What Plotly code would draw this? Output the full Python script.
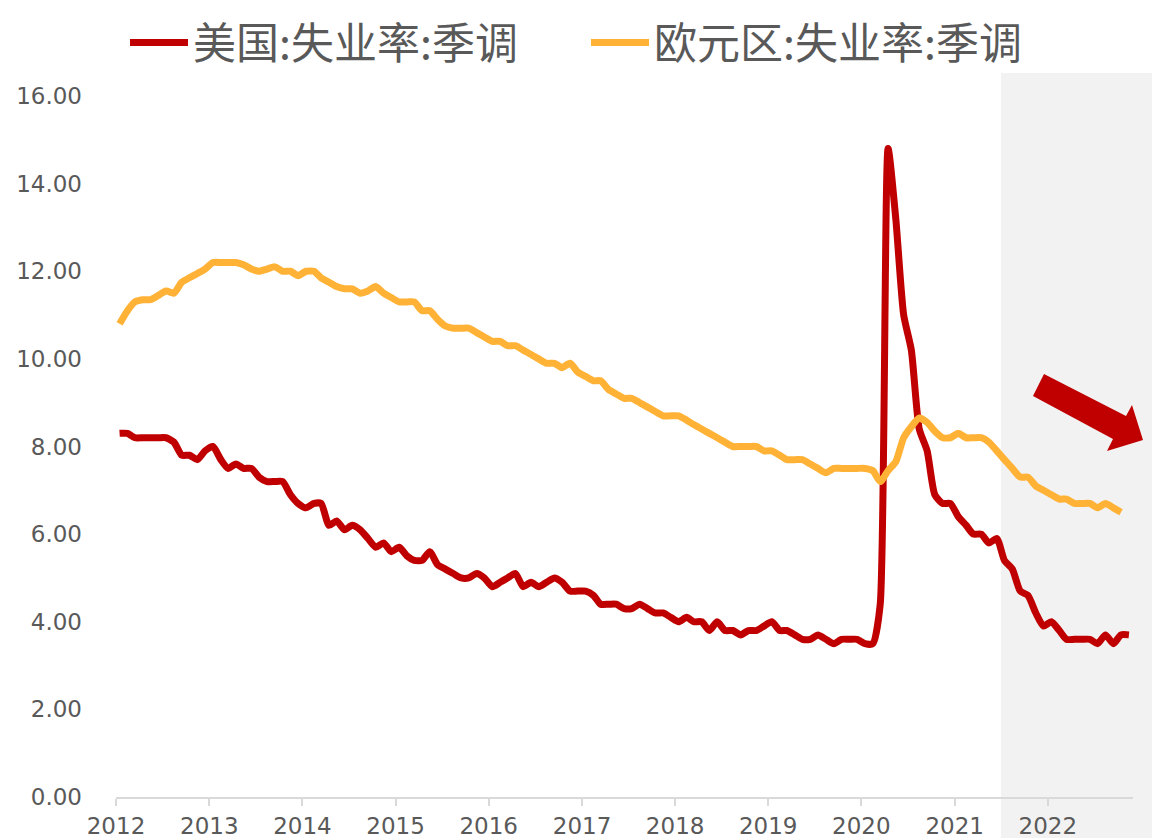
import pandas as pd
import plotly.graph_objects as go

# ---- data (monthly, seasonally adjusted unemployment rate, %) ----
us_start = "2012-01"
us_rate = [
    8.3, 8.3, 8.2, 8.2, 8.2, 8.2, 8.2, 8.1, 7.8, 7.8, 7.7, 7.9,
    8.0, 7.7, 7.5, 7.6, 7.5, 7.5, 7.3, 7.2, 7.2, 7.2, 6.9, 6.7,
    6.6, 6.7, 6.7, 6.2, 6.3, 6.1, 6.2, 6.1, 5.9, 5.7, 5.8, 5.6,
    5.7, 5.5, 5.4, 5.4, 5.6, 5.3, 5.2, 5.1, 5.0, 5.0, 5.1, 5.0,
    4.8, 4.9, 5.0, 5.1, 4.8, 4.9, 4.8, 4.9, 5.0, 4.9, 4.7, 4.7,
    4.7, 4.6, 4.4, 4.4, 4.4, 4.3, 4.3, 4.4, 4.3, 4.2, 4.2, 4.1,
    4.0, 4.1, 4.0, 4.0, 3.8, 4.0, 3.8, 3.8, 3.7, 3.8, 3.8, 3.9,
    4.0, 3.8, 3.8, 3.7, 3.6, 3.6, 3.7, 3.6, 3.5, 3.6, 3.6, 3.6,
    3.5, 3.5, 4.4, 14.8, 13.2, 11.0, 10.2, 8.4, 7.9, 6.9, 6.7, 6.7,
    6.4, 6.2, 6.0, 6.0, 5.8, 5.9, 5.4, 5.2, 4.7, 4.6, 4.2, 3.9,
    4.0, 3.8, 3.6, 3.6, 3.6, 3.6, 3.5, 3.7, 3.5, 3.7, 3.7,
]
ez_start = "2012-01"
ez_rate = [
    10.8, 11.1, 11.3, 11.35, 11.35, 11.45, 11.55, 11.5, 11.75, 11.85, 11.95, 12.05,
    12.2, 12.2, 12.2, 12.2, 12.15, 12.05, 12.0, 12.05, 12.1, 12.0, 12.0, 11.9,
    12.0, 12.0, 11.85, 11.75, 11.65, 11.6, 11.6, 11.5, 11.55, 11.65, 11.5, 11.4,
    11.3, 11.3, 11.3, 11.1, 11.1, 10.9, 10.75, 10.7, 10.7, 10.7, 10.6, 10.5,
    10.4, 10.4, 10.3, 10.3, 10.2, 10.1, 10.0, 9.9, 9.9, 9.8, 9.9, 9.7,
    9.6, 9.5, 9.5, 9.3, 9.2, 9.1, 9.1, 9.0, 8.9, 8.8, 8.7, 8.7,
    8.7, 8.6, 8.5, 8.4, 8.3, 8.2, 8.1, 8.0, 8.0, 8.0, 8.0, 7.9,
    7.9, 7.8, 7.7, 7.7, 7.7, 7.6, 7.5, 7.4, 7.5, 7.5, 7.5, 7.5,
    7.5, 7.45, 7.2, 7.45, 7.65, 8.2, 8.45, 8.65, 8.55, 8.35, 8.2, 8.2,
    8.3, 8.2, 8.2, 8.2, 8.1, 7.9, 7.7, 7.5, 7.3, 7.3, 7.1, 7.0,
    6.9, 6.8, 6.8, 6.7, 6.7, 6.7, 6.6, 6.7, 6.6, 6.5,
]
series_names = ["美国:失业率:季调", "欧元区:失业率:季调"]
series_colors = ["#C00000", "#FFB236"]
year_ticks = list(range(2012, 2023))
shade_start = "2021-07-01"
x_range = ["2012-01-01", "2022-12-01"]


def month_mid(start, n):
    return pd.date_range(start, periods=n, freq="MS") + pd.Timedelta(days=14)


us_x = month_mid(us_start, len(us_rate))
ez_x = month_mid(ez_start, len(ez_rate))

# ---- layout geometry (pixels); page body adds an 8px offset ----
OFF = 8
W, H = 1160 - OFF, 838 - OFF
L = 116 - OFF
R = W - (1133 - OFF)
T = 96 - OFF
B = H - (797 - OFF)
plot_w = W - L - R
plot_h = H - T - B


def px_x(px):
    """page pixel (reference) -> paper x"""
    return (px - OFF - L) / plot_w


def px_y(py):
    """page pixel (reference) -> paper y"""
    return (H - B - (py - OFF)) / plot_h


fig = go.Figure()
for name, xs, ys, col in [
    (series_names[0], us_x, us_rate, series_colors[0]),
    (series_names[1], ez_x, ez_rate, series_colors[1]),
]:
    fig.add_trace(go.Scatter(
        x=xs, y=ys, name=name, mode="lines",
        line=dict(color=col, width=7, shape="spline", smoothing=0.6),
    ))

# shaded recent region
r0 = pd.Timestamp(x_range[0])
r1 = pd.Timestamp(x_range[1])
shade_x0 = (pd.Timestamp(shade_start) - r0) / (r1 - r0)
fig.add_shape(type="rect", xref="paper", yref="paper",
              x0=shade_x0, x1=px_x(1160), y0=px_y(838), y1=px_y(73),
              fillcolor="#F2F2F2", line=dict(width=0), layer="below")

# red arrow decoration
arrow_pts = [(1044, 374), (1126, 416), (1132, 405), (1143, 440),
             (1107, 451), (1113, 439), (1033, 396)]
path = "M " + " L ".join(f"{px_x(a):.5f},{px_y(b):.5f}" for a, b in arrow_pts) + " Z"
fig.add_shape(type="path", xref="paper", yref="paper", path=path,
              fillcolor="#C00000", line=dict(width=0), layer="above")

grey = "#595959"
fig.update_layout(
    width=W, height=H,
    margin=dict(l=L, r=R, t=T, b=B, autoexpand=False),
    plot_bgcolor="rgba(0,0,0,0)", paper_bgcolor="white",
    font=dict(family="Noto Sans CJK SC, DejaVu Sans", color=grey),
    showlegend=True,
    legend=dict(
        orientation="h", xref="container", yref="container",
        x=(133 - 2 * OFF) / W, xanchor="left",
        y=1.0, yanchor="top", borderwidth=0,
        font=dict(size=43, color=grey, family="Noto Sans CJK SC"),
        entrywidth=388, entrywidthmode="pixels",
        itemwidth=58, bgcolor="rgba(0,0,0,0)",
    ),
    xaxis=dict(
        type="date", range=x_range,
        tickvals=[f"{y}-01-01" for y in year_ticks],
        ticktext=[str(y) for y in year_ticks],
        showgrid=False, zeroline=False,
        showline=True, linecolor="#D9D9D9", linewidth=2,
        ticks="outside", ticklen=7, tickcolor="#D9D9D9", tickwidth=1.5,
        tickfont=dict(size=23, color=grey, family="DejaVu Sans"),
        automargin=False,
    ),
    yaxis=dict(
        range=[0, 16], dtick=2, tick0=0, tickformat=".2f",
        showgrid=False, zeroline=False, showline=False,
        ticks="", ticklabelstandoff=33,
        tickfont=dict(size=23, color=grey, family="DejaVu Sans"),
        automargin=False,
    ),
)

fig.write_html("out.html")
